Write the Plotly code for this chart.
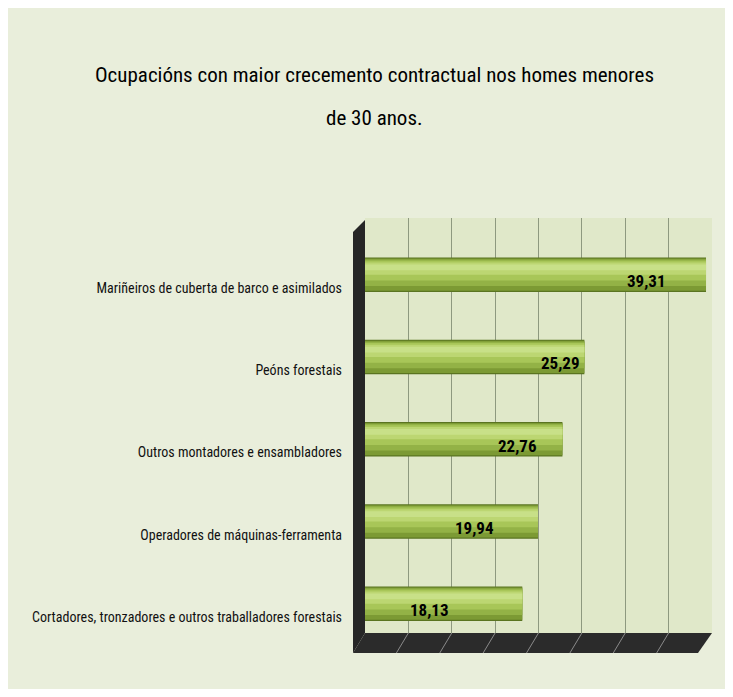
import plotly.graph_objects as go

# ---- data ----
categories = [
    "Mariñeiros de cuberta de barco e asimilados",
    "Peóns forestais",
    "Outros montadores e ensambladores",
    "Operadores de máquinas-ferramenta",
    "Cortadores, tronzadores e outros traballadores forestais",
]
values = [39.31, 25.29, 22.76, 19.94, 18.13]
value_labels = ["39,31", "25,29", "22,76", "19,94", "18,13"]
label_x = [32.5, 22.5, 17.6, 12.6, 7.4]
title_lines = ["Ocupacións con maior crecemento contractual nos homes menores", "de 30 anos."]

# ---- layout constants (pixels, reference coords; page body adds 8px offset) ----
OFF = 8
W, H = 733 - 2 * OFF, 697 - 2 * OFF
PL, PR, PT, PB = 365, 712, 218, 633          # plot area in reference pixels
L, R, T, B = PL - OFF, W - (PR - OFF), PT - OFF, H - (PB - OFF)
FONT = "Roboto Condensed, Liberation Sans Narrow, DejaVu Sans Condensed, Arial Narrow, sans-serif"

def px(x):
    return (x - OFF - L) / (W - L - R)

def py(y):
    return (H - B - (y - OFF)) / (H - T - B)

pos = list(range(len(categories)))
SHIFT = -0.16   # 3D perspective: bars sit a little above their labels
HALF = 0.21

fig = go.Figure()

# cylinder-like bars built from overlaid layers (dark -> light); (color, width, inset from top)
layers = [
    ("#5a7420", 0.42, 0.000),
    ("#7c9a34", 0.39, 0.012),
    ("#93b246", 0.32, 0.025),
    ("#a8c658", 0.24, 0.040),
    ("#bcd672", 0.15, 0.060),
    ("#c8e088", 0.07, 0.085),
]
for color, width, inset in layers:
    fig.add_trace(go.Bar(
        x=values, y=pos, orientation="h",
        marker=dict(color=color, line=dict(width=0)),
        width=width, offset=SHIFT - HALF + inset,
        hoverinfo="skip", showlegend=False,
    ))

for xv, yv, txt in zip(label_x, pos, value_labels):
    fig.add_annotation(x=xv, y=yv + SHIFT + 0.075, xref="x", yref="y", text=txt,
                       showarrow=False,
                       font=dict(family=FONT, size=17, color="#000000", weight="bold"))

# title lines
for line, yy in zip(title_lines, (75, 118)):
    fig.add_annotation(x=px(374), y=py(yy), xref="paper", yref="paper", text=line,
                       showarrow=False, xanchor="center", yanchor="middle",
                       font=dict(family=FONT, size=21, color="#000000"))

shapes = []
# left wall
shapes.append(dict(type="path", xref="paper", yref="paper",
                   path=f"M {px(353)},{py(232)} L {px(365)},{py(220)} L {px(365)},{py(633)} L {px(353)},{py(653)} Z",
                   fillcolor="#262626", line=dict(width=0), layer="above"))
# floor
shapes.append(dict(type="path", xref="paper", yref="paper",
                   path=f"M {px(365)},{py(633)} L {px(712)},{py(633)} L {px(698)},{py(653)} L {px(353)},{py(653)} Z",
                   fillcolor="#2b2b2b", line=dict(width=0), layer="above"))
# slanted floor lines at each gridline
for k in range(1, 8):
    xv = k * 5
    shapes.append(dict(type="line", xref="x", yref="paper",
                       x0=xv, x1=xv - 12 * 40 / (W - L - R),
                       y0=py(633), y1=py(653),
                       line=dict(color="#8a8a8a", width=1), layer="above"))

fig.update_layout(
    width=W, height=H,
    autosize=False,
    margin=dict(l=L, r=R, t=T, b=B, pad=0, autoexpand=False),
    paper_bgcolor="#e9eedb",
    plot_bgcolor="#e0e8c9",
    barmode="overlay",
    shapes=shapes,
    font=dict(family=FONT, color="#111111"),
    xaxis=dict(range=[0, 40], dtick=5, showgrid=True, gridcolor="#8e997f", gridwidth=1,
               showticklabels=False, zeroline=False, showline=False, fixedrange=True,
               automargin=False),
    yaxis=dict(range=[4 + (PB - 617) / 82.25, -(288 - PT) / 82.25], tickvals=pos, ticktext=categories,
               showgrid=False, zeroline=False, showline=False,
               tickfont=dict(family=FONT, size=14, color="#111111"),
               ticklabelstandoff=22, ticks="", fixedrange=True, automargin=False),
)

fig.write_html("out.html")
